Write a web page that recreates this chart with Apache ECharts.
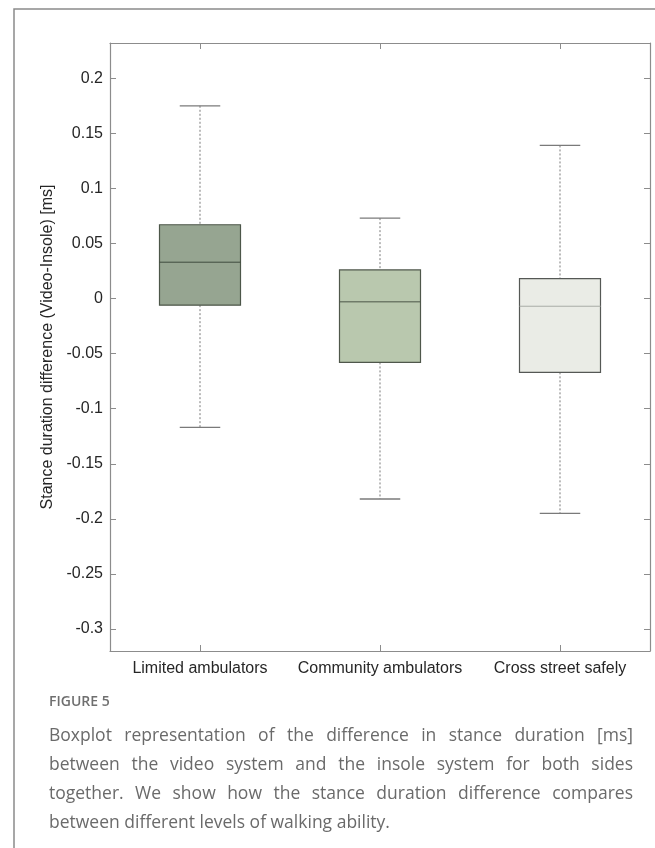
<!DOCTYPE html>
<html><head><meta charset="utf-8">
<script src="https://cdn.jsdelivr.net/npm/echarts@6/dist/echarts.min.js"></script>
<style>html,body{margin:0;padding:0;background:#fff}#c{width:655px;height:848px}</style>
</head><body><div id="c"></div>
<script>
// ---- data ----
const categories = ['Limited ambulators', 'Community ambulators', 'Cross street safely'];
const whiskerLow  = [-0.117, -0.182, -0.195];
const quartile1   = [-0.006, -0.058, -0.067];
const medians     = [0.033, -0.003, -0.007];
const quartile3   = [0.067, 0.026, 0.018];
const whiskerHigh = [0.175, 0.073, 0.139];
const yAxisTitle = 'Stance duration difference (Video-Insole) [ms]';
const figureLabel = 'FIGURE 5';
const captionLines = [
  'Boxplot representation of the difference in stance duration [ms]',
  'between the video system and the insole system for both sides',
  'together. We show how the stance duration difference compares',
  'between different levels of walking ability.'
];

// ---- styles ----
const boxFill = ['#96a591', '#b9c8ae', '#eaece6'];
const boxStroke = ['#4c5649', '#4f574b', '#555855'];
const medianStroke = ['#3f4a3d', '#4b5548', '#a9ada6'];
const axisColor = '#8c8c8c';
const labelColor = '#262626';

const chart = echarts.init(document.getElementById('c'), null, {renderer: 'canvas'});

const boxData = categories.map((c, i) => [i, whiskerLow[i], quartile1[i], medians[i], quartile3[i], whiskerHigh[i]]);

function renderItem(params, api) {
  const i = api.value(0);
  const cx = api.coord([i, 0])[0];
  const bw = api.size([1, 0])[0] * 0.45;
  const cw = bw * 0.5;
  const yLo = api.coord([i, api.value(1)])[1];
  const yQ1 = api.coord([i, api.value(2)])[1];
  const yMd = api.coord([i, api.value(3)])[1];
  const yQ3 = api.coord([i, api.value(4)])[1];
  const yHi = api.coord([i, api.value(5)])[1];
  const wStyle = {stroke: '#7a7a7a', lineWidth: 1, lineDash: [2, 2]};
  const cStyle = {stroke: '#7a7a7a', lineWidth: 1.3};
  return {
    type: 'group',
    children: [
      {type: 'line', shape: {x1: cx, y1: yHi, x2: cx, y2: yQ3}, style: wStyle},
      {type: 'line', shape: {x1: cx, y1: yQ1, x2: cx, y2: yLo}, style: wStyle},
      {type: 'line', shape: {x1: cx - cw / 2, y1: yHi, x2: cx + cw / 2, y2: yHi}, style: cStyle},
      {type: 'line', shape: {x1: cx - cw / 2, y1: yLo, x2: cx + cw / 2, y2: yLo}, style: cStyle},
      {type: 'rect', shape: {x: cx - bw / 2, y: yQ3, width: bw, height: yQ1 - yQ3},
        style: {fill: boxFill[i], stroke: boxStroke[i], lineWidth: 1.2}},
      {type: 'line', shape: {x1: cx - bw / 2, y1: yMd, x2: cx + bw / 2, y2: yMd},
        style: {stroke: medianStroke[i], lineWidth: 1}}
    ]
  };
}

// justified caption text
const capFont = "17.5px 'Open Sans'";
const capLeft = 49, capRight = 633;
const capTop = 736, capLineH = 29;
const ctx = document.createElement('canvas').getContext('2d');
ctx.font = capFont;
const graphics = [];
graphics.push({type: 'polyline', shape: {points: [[14, 848], [14, 9], [655, 9]]},
  style: {stroke: '#8a8a8a', lineWidth: 1.5, fill: null}, silent: true});
graphics.push({type: 'text', x: capLeft, y: 702,
  style: {text: figureLabel, font: "600 14px 'Open Sans'", fill: '#6f6f6f', verticalAlign: 'middle'}});
captionLines.forEach((line, li) => {
  const y = capTop + li * capLineH;
  const last = li === captionLines.length - 1;
  if (last) {
    graphics.push({type: 'text', x: capLeft, y: y,
      style: {text: line, font: capFont, fill: '#6a6a6a', verticalAlign: 'middle'}});
    return;
  }
  const words = line.split(' ');
  const widths = words.map(w => ctx.measureText(w).width);
  const total = widths.reduce((a, b) => a + b, 0);
  const gap = (capRight - capLeft - total) / (words.length - 1);
  let x = capLeft;
  words.forEach((w, wi) => {
    graphics.push({type: 'text', x: x, y: y,
      style: {text: w, font: capFont, fill: '#6a6a6a', verticalAlign: 'middle'}});
    x += widths[wi] + gap;
  });
});

const yCommon = {
  type: 'value', min: -0.32, max: 0.232, splitNumber: 11,
  axisLine: {show: true, onZero: false, lineStyle: {color: axisColor, width: 1.2}},
  axisTick: {show: true, inside: true, length: 6, lineStyle: {color: axisColor}},
  splitLine: {show: false}
};
const xCommon = {
  type: 'category', data: categories,
  axisLine: {show: true, onZero: false, lineStyle: {color: axisColor, width: 1.2}},
  axisTick: {show: true, inside: true, alignWithLabel: true, length: 6, lineStyle: {color: axisColor}},
  splitLine: {show: false}
};

chart.setOption({
  animation: false,
  backgroundColor: '#ffffff',
  grid: {left: 110, right: 5, top: 43, bottom: 197, containLabel: false},
  xAxis: [
    Object.assign({}, xCommon, {position: 'bottom',
      axisLabel: {color: labelColor, fontSize: 16, fontFamily: 'Liberation Sans', margin: 10,
        interval: 0, hideOverlap: false}}),
    Object.assign({}, xCommon, {position: 'top', axisLabel: {show: false}})
  ],
  yAxis: [
    Object.assign({}, yCommon, {position: 'left',
      axisLabel: {color: labelColor, fontSize: 16, fontFamily: 'Liberation Sans', margin: 7,
        showMinLabel: false, showMaxLabel: false},
      name: yAxisTitle, nameLocation: 'middle', nameGap: 40,
      nameTextStyle: {color: labelColor, fontSize: 16, fontFamily: 'Liberation Sans'}}),
    Object.assign({}, yCommon, {position: 'right', axisLabel: {show: false}})
  ],
  series: [{
    type: 'custom', renderItem: renderItem, data: boxData,
    encode: {x: 0, y: [1, 2, 3, 4, 5]}, xAxisIndex: 0, yAxisIndex: 0
  }],
  graphic: graphics
});
</script></body></html>
